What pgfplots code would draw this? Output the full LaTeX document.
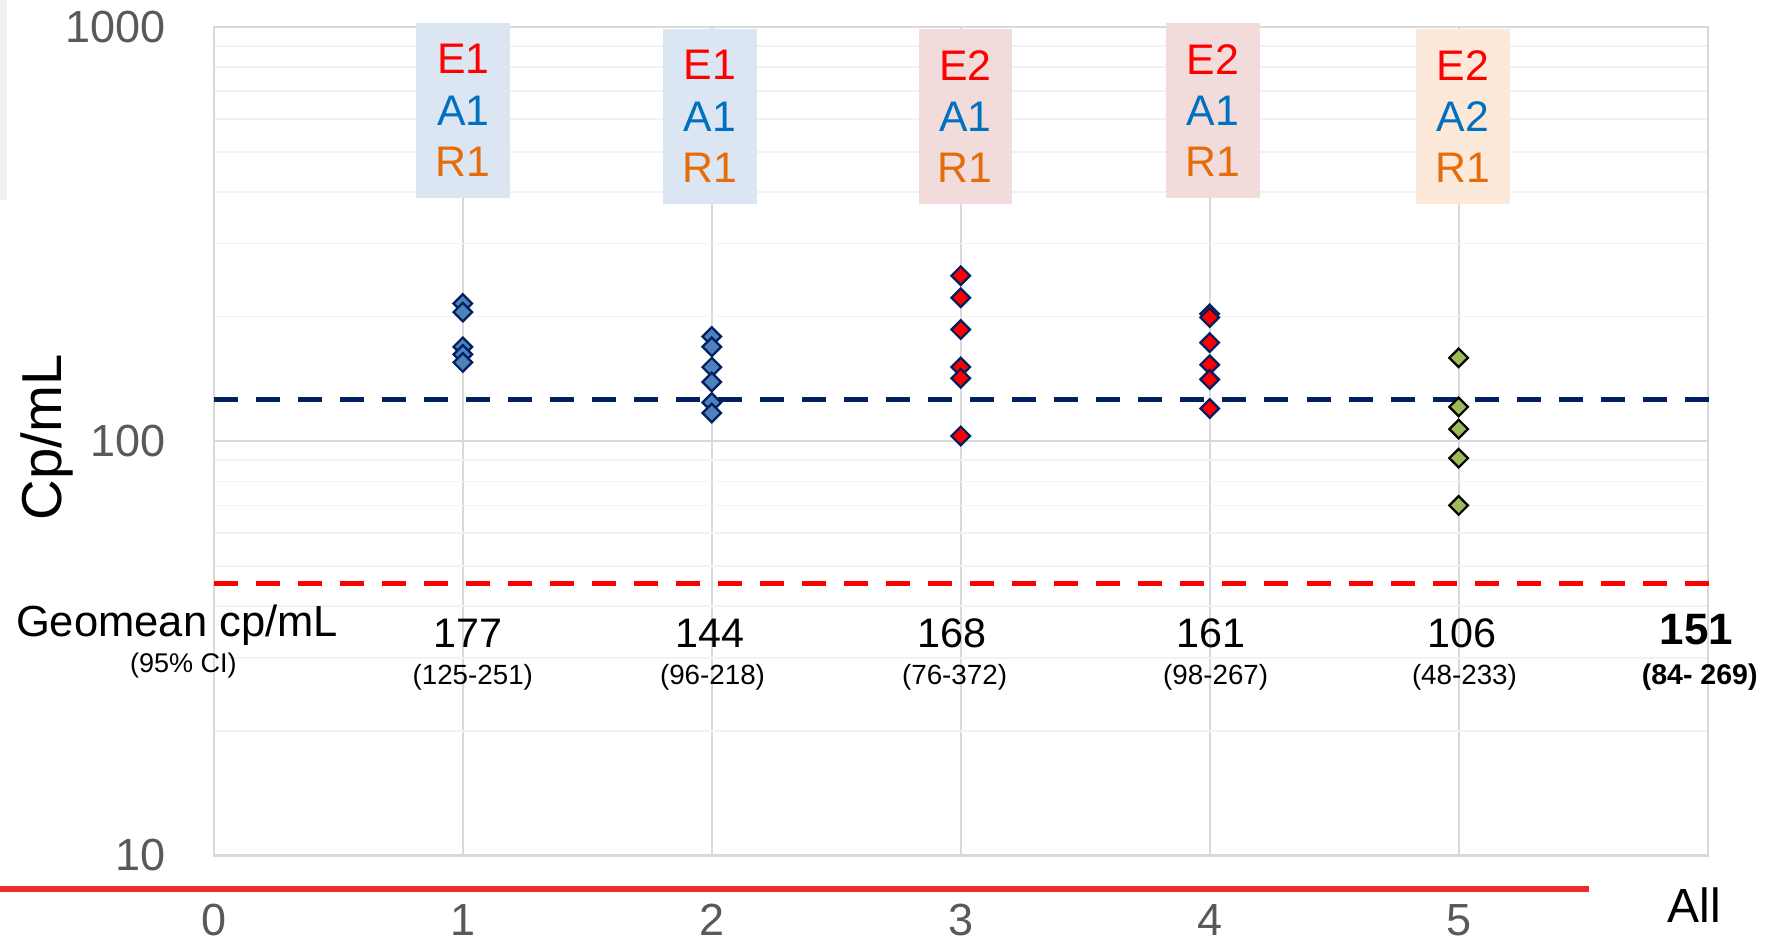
\documentclass[border=0pt]{standalone}
\usepackage{pgfplots}
\pgfplotsset{compat=1.18}
\usepackage{fontspec}
\setmainfont{Liberation Sans}

\definecolor{gridmaj}{HTML}{D9D9D9}
\definecolor{gridmin}{HTML}{F2F2F2}
\definecolor{navy}{HTML}{002060}
\definecolor{ptblue}{HTML}{4F81BD}
\definecolor{ptred}{HTML}{FF0000}
\definecolor{ptgreen}{HTML}{9BBB59}
\definecolor{lodred}{HTML}{FF0000}
\definecolor{barred}{HTML}{EE2A2A}
\definecolor{tickgray}{HTML}{595959}
\definecolor{Ered}{HTML}{FF0000}
\definecolor{Ablue}{HTML}{0070C0}
\definecolor{Rorange}{HTML}{E46C0A}
\definecolor{boxblue}{HTML}{DCE6F2}
\definecolor{boxpink}{HTML}{F2DCDB}
\definecolor{boxpeach}{HTML}{FDE9D9}

\tikzset{
  grpbox/.style={minimum width=24.9pt, minimum height=46.5pt, inner sep=0pt,
    align=center, font=\fontsize{11.4}{13.65}\selectfont},
  gm/.style={anchor=base, inner sep=0pt, font=\fontsize{11}{13}\selectfont},
  ci/.style={anchor=base, inner sep=0pt, font=\fontsize{7.4}{9}\selectfont},
}
% rotated-square marker: #1 fill colour, #2 outline colour
\pgfplotsset{
  diam/.style 2 args={only marks, mark=square*, mark size=1.75pt,
    mark options={rotate=45, line width=0.6pt, fill=#1, draw=#2}},
}

\begin{document}
\begin{tikzpicture}
\path[use as bounding box] (-57pt,-22.5pt) rectangle (413.4pt,228pt);
\fill[gridmin] (-57pt,174.6pt) rectangle (-55.2pt,228pt);

\begin{axis}[
  at={(0pt,0pt)}, anchor=south west,
  scale only axis, width=398.1pt, height=220.8pt,
  xmin=0, xmax=6,
  ymode=log, ymin=10, ymax=1000,
  xtick={0,1,2,3,4,5}, xticklabels={0,1,2,3,4,5},
  ytick={10,100,1000}, yticklabels={10,100,1000},
  minor ytick={20,30,40,50,60,70,80,90,200,300,400,500,600,700,800,900},
  xmajorgrids, ymajorgrids, yminorgrids,
  major grid style={draw=gridmaj, line width=0.55pt},
  minor grid style={draw=gridmin, line width=0.45pt},
  axis line style={draw=gridmaj, line width=0.55pt},
  major tick length=0pt, minor tick length=0pt,
  tick style={draw=none},
  /pgf/number format/assume math mode=true,
  ticklabel style={font=\fontsize{12}{14}\selectfont, text=tickgray, inner sep=0pt},
  xticklabel style={anchor=base, yshift=-21.2pt},
  yticklabel style={anchor=east, xshift=-12.6pt},
  clip=false,
]
% individual results per group
\addplot[diam={ptblue}{navy}] coordinates {
  (1,215) (1,205) (1,169) (1,162) (1,155)};
\addplot[diam={ptblue}{navy}] coordinates {
  (2,179) (2,169) (2,151) (2,139) (2,124) (2,117)};
\addplot[diam={ptred}{navy}] coordinates {
  (3,251) (3,222) (3,186) (3,151) (3,142) (3,103)};
\addplot[diam={ptred}{navy}] coordinates {
  (4,203) (4,199) (4,173) (4,153) (4,141) (4,120)};
\addplot[diam={ptgreen}{black}] coordinates {
  (5,159) (5,121) (5,107) (5,91) (5,70)};
% reference levels
\addplot[navy, line width=1.4pt, dash pattern=on 6.4pt off 4.8pt] coordinates {(0,126) (6.02,126)};
\addplot[lodred, line width=1.4pt, dash pattern=on 6.4pt off 4.8pt] coordinates {(0,45.4) (6.02,45.4)};
\end{axis}

% group descriptors
\node[grpbox, fill=boxblue]  at (66.45pt,198.6pt) {\textcolor{Ered}{E1}\\\textcolor{Ablue}{A1}\\\textcolor{Rorange}{R1}};
\node[grpbox, fill=boxblue]  at (132.2pt,197.0pt) {\textcolor{Ered}{E1}\\\textcolor{Ablue}{A1}\\\textcolor{Rorange}{R1}};
\node[grpbox, fill=boxpink]  at (200.25pt,197.0pt) {\textcolor{Ered}{E2}\\\textcolor{Ablue}{A1}\\\textcolor{Rorange}{R1}};
\node[grpbox, fill=boxpink]  at (266.25pt,198.6pt) {\textcolor{Ered}{E2}\\\textcolor{Ablue}{A1}\\\textcolor{Rorange}{R1}};
\node[grpbox, fill=boxpeach] at (332.85pt,197.0pt) {\textcolor{Ered}{E2}\\\textcolor{Ablue}{A2}\\\textcolor{Rorange}{R1}};

% geometric means
\node[anchor=base west, inner sep=0pt, font=\fontsize{11.6}{14}\selectfont] at (-52.9pt,58.3pt) {Geomean cp/mL};
\node[anchor=base, inner sep=0pt, font=\fontsize{7.2}{9}\selectfont] at (-8.1pt,48.7pt) {(95\% CI)};
\node[gm] at (67.8pt,55.4pt) {177};
\node[gm] at (132.3pt,55.4pt) {144};
\node[gm] at (196.8pt,55.4pt) {168};
\node[gm] at (265.8pt,55.4pt) {161};
\node[gm] at (332.7pt,55.4pt) {106};
\node[anchor=base, inner sep=0pt, font=\fontsize{11.7}{14}\selectfont\bfseries] at (395.1pt,56.1pt) {151};
\node[ci] at (69pt,45.45pt) {(125-251)};
\node[ci] at (132.9pt,45.45pt) {(96-218)};
\node[ci] at (197.4pt,45.45pt) {(76-372)};
\node[ci] at (267pt,45.45pt) {(98-267)};
\node[ci] at (333.3pt,45.45pt) {(48-233)};
\node[anchor=base, inner sep=0pt, font=\fontsize{7.6}{9}\selectfont\bfseries] at (396pt,45.45pt) {(84- 269)};

% axis title and category bar
\node[rotate=90, anchor=base, inner sep=0pt, font=\fontsize{15}{18}\selectfont] at (-40.6pt,111.45pt) {Cp/mL};
\draw[barred, line width=1.7pt] (-57pt,-9pt) -- (366.6pt,-9pt);
\node[anchor=base, inner sep=0pt, font=\fontsize{12.8}{15}\selectfont] at (394.5pt,-17.9pt) {All};
\end{tikzpicture}
\end{document}
